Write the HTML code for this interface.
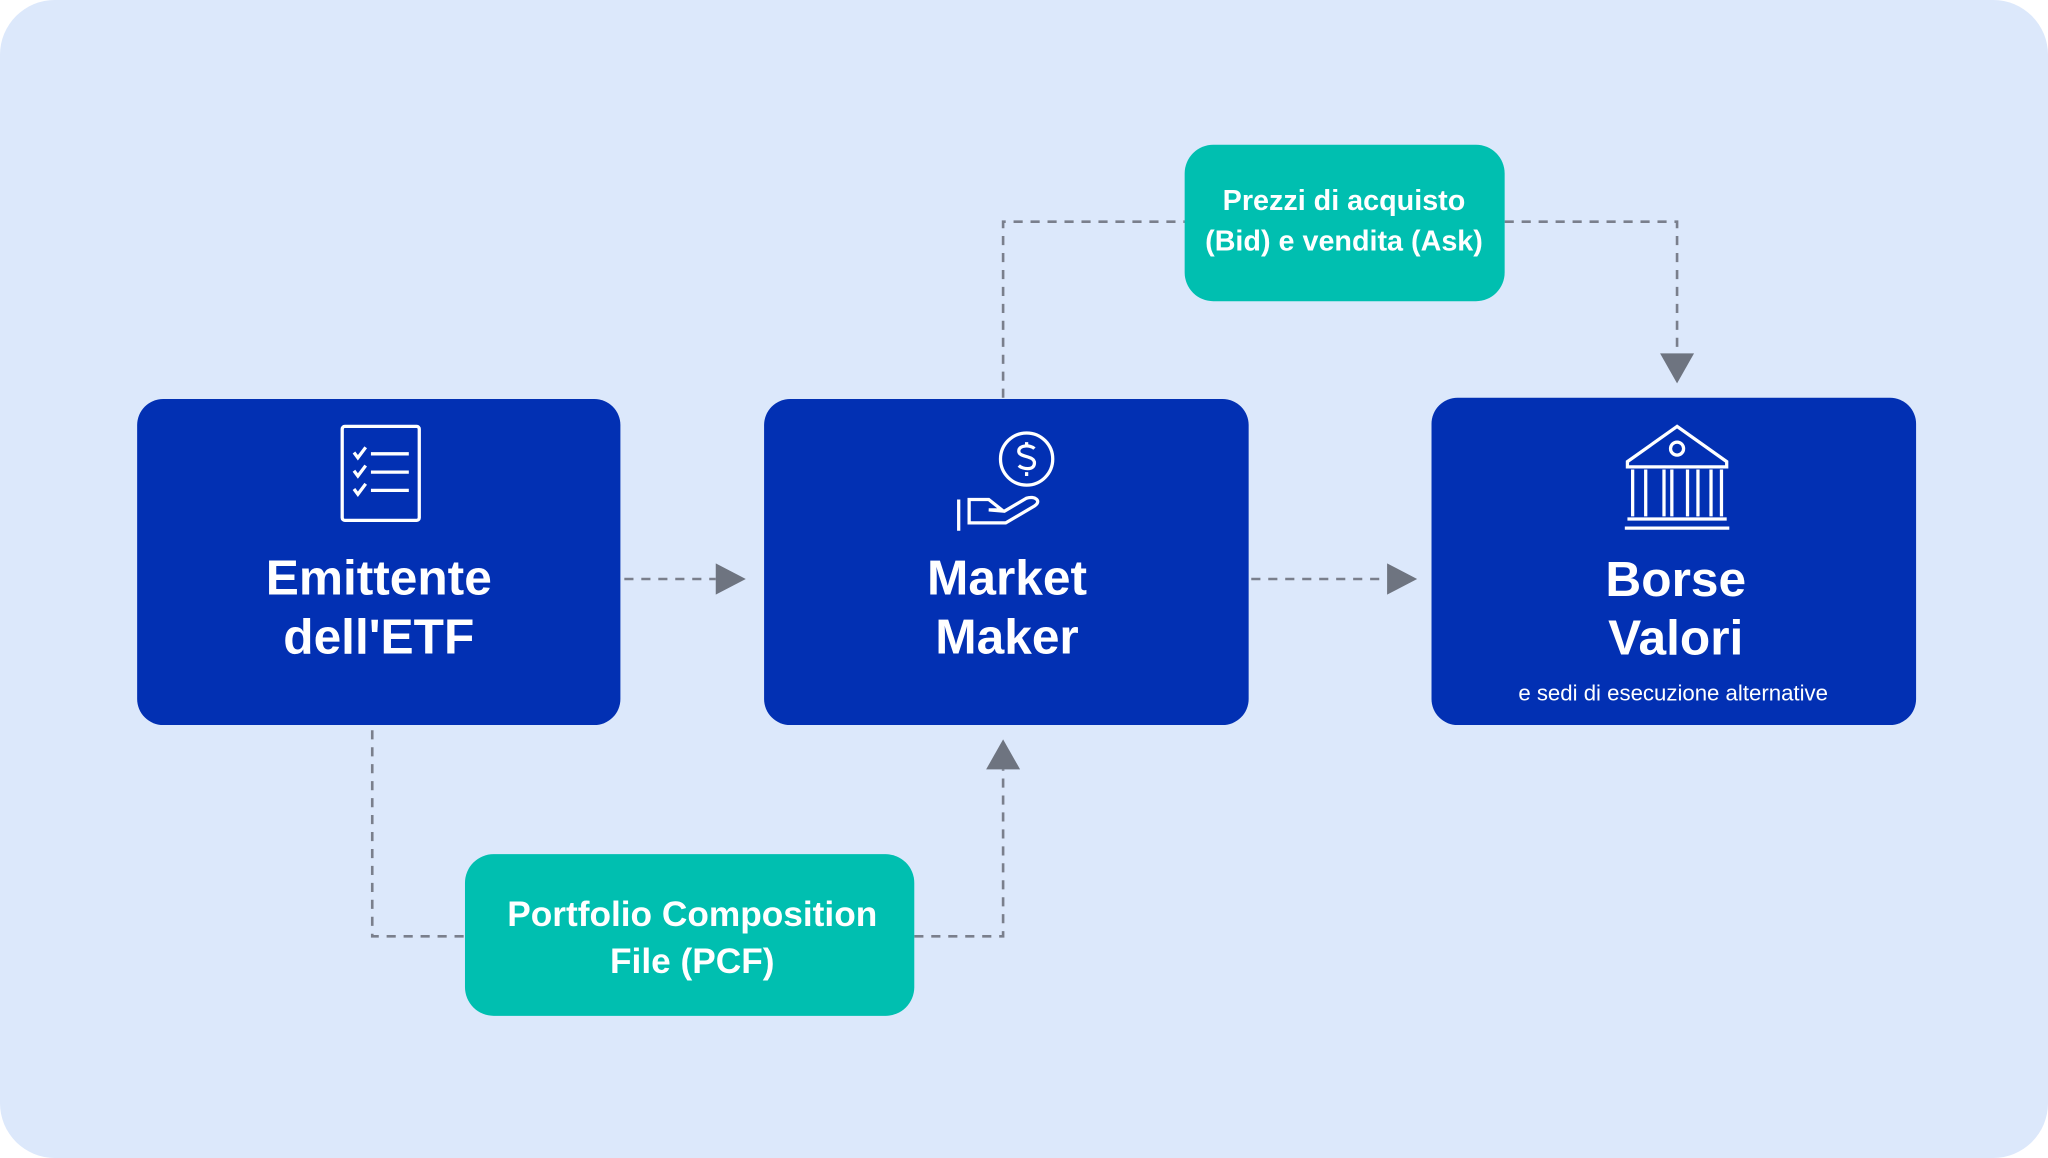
<!DOCTYPE html>
<html><head><meta charset="utf-8"><style>
html,body{margin:0;padding:0;background:#fff;width:2048px;height:1158px;overflow:hidden}
svg{display:block}
text{font-family:"Liberation Sans",sans-serif;font-weight:bold;fill:#fff;text-anchor:middle}
</style></head><body>
<svg width="2048" height="1158" viewBox="0 0 1568 888" preserveAspectRatio="none">
<rect x="0" y="0" width="1568" height="888" rx="42" fill="#dce8fb"/>
<g stroke="#7a7f8c" stroke-width="2" stroke-dasharray="7,6" fill="none">
<path d="M478 444H548"/>
<path d="M958 444H1062"/>
<path d="M768 305V170H907"/>
<path d="M1152 170H1284V272"/>
<path d="M285 560V718H356"/>
<path d="M700 718H768V590"/>
</g>
<g fill="#6e7480">
<path d="M548 432L571 444L548 456Z"/>
<path d="M1062 432L1085 444L1062 456Z"/>
<path d="M1271 271L1284 294L1297 271Z"/>
<path d="M755 590L768 567L781 590Z"/>
</g>
<rect x="105" y="306" width="370" height="250" rx="20" fill="#0230b3"/>
<rect x="585" y="306" width="371" height="250" rx="20" fill="#0230b3"/>
<rect x="1096" y="305" width="371" height="251" rx="20" fill="#0230b3"/>
<rect x="907" y="111" width="245" height="120" rx="22" fill="#00bfb0"/>
<rect x="356" y="655" width="344" height="124" rx="22" fill="#00bfb0"/>
<!-- icon 1 -->
<g stroke="#fff" stroke-width="2.5" fill="none">
<rect x="262" y="327" width="59" height="72" rx="2"/>
<path d="M271 347l3 4 6-8M284 348h29M271 361l3 4 6-8M284 362h29M271 375l3 4 6-8M284 376h29"/>
<!-- icon 2 -->
<circle cx="786" cy="352" r="20"/>
<path d="M792 344c-3-3-12-3-12 2s12 3 12 9-9 5-12 2M786 339v3M786 362v3"/>
<path d="M734 383v24M742 383h15l10 8h-10l12 1 17-10c6-2 12 2 6 6l-22 13h-28z"/>
<!-- icon 3 -->
<path d="M1284 327l-38 27v4h76v-4z"/>
<circle cx="1284" cy="344" r="5"/>
<path d="M1250 360v36M1260 360v36M1274 360v36M1280 360v36M1292 360v36M1300 360v36M1310 360v36M1318 360v36"/>
<path d="M1246 398h76M1244 405h80"/>
</g>
<text x="290" y="456" font-size="38">Emittente</text>
<text x="290" y="501" font-size="38">dell'ETF</text>
<text x="771" y="456" font-size="38">Market</text>
<text x="771" y="501" font-size="38">Maker</text>
<text x="1283" y="457" font-size="38">Borse</text>
<text x="1283" y="502" font-size="38">Valori</text>
<text x="1281" y="537" font-size="17" font-weight="normal" style="font-weight:normal">e sedi di esecuzione alternative</text>
<text x="1029" y="161" font-size="22">Prezzi di acquisto</text>
<text x="1029" y="192" font-size="22">(Bid) e vendita (Ask)</text>
<text x="530" y="710" font-size="27">Portfolio Composition</text>
<text x="530" y="746" font-size="27">File (PCF)</text>
</svg>
</body></html>
